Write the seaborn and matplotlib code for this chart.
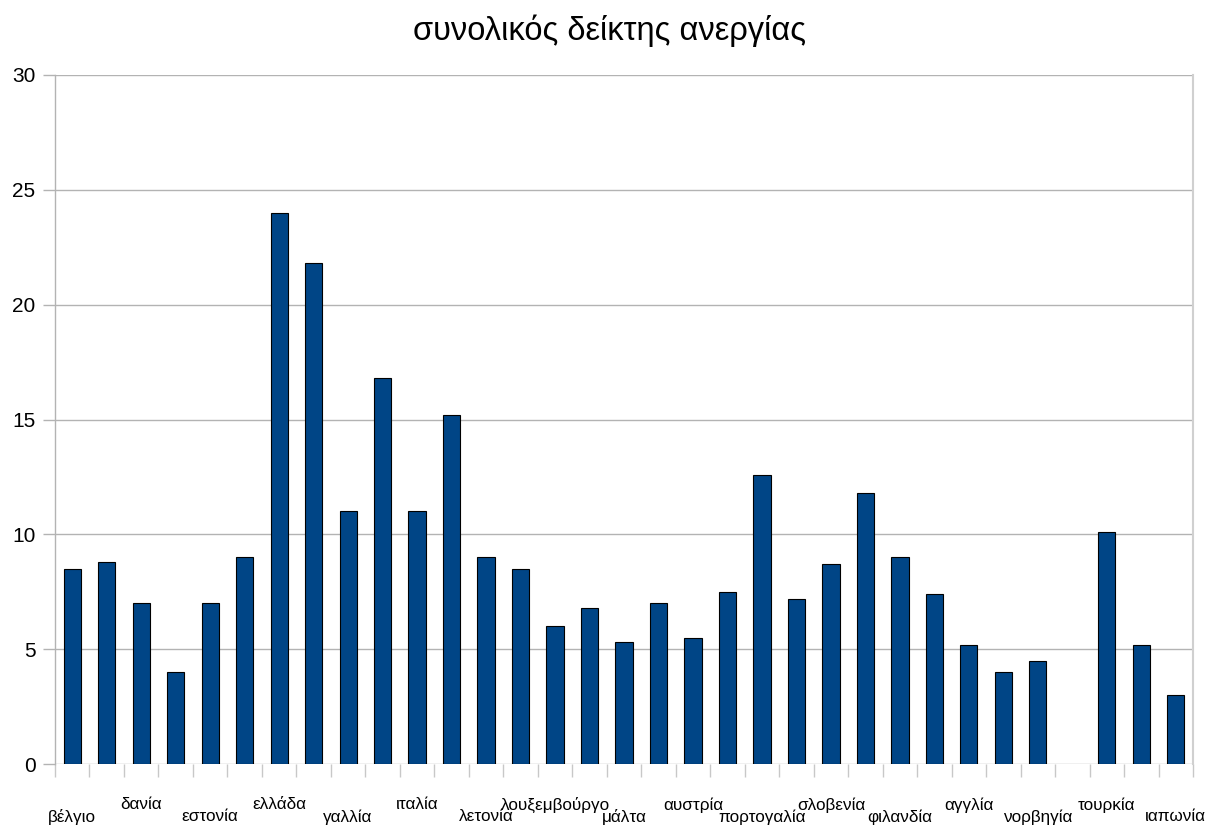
import numpy as np
import pandas as pd
import matplotlib
matplotlib.use("Agg")
import matplotlib.pyplot as plt
from matplotlib.transforms import offset_copy
import seaborn as sns

# Unemployment rate per country (%); only every other country name is printed
labels = ["βέλγιο", "", "δανία", "", "εστονία", "", "ελλάδα", "", "γαλλία", "",
          "ιταλία", "", "λετονία", "", "λουξεμβούργο", "", "μάλτα", "", "αυστρία", "",
          "πορτογαλία", "", "σλοβενία", "", "φιλανδία", "", "αγγλία", "", "νορβηγία", "",
          "τουρκία", "", "ιαπωνία"]
rates = [8.5, 8.8, 7.0, 4.0, 7.0, 9.0, 24.0, 21.8, 11.0, 16.8,
         11.0, 15.2, 9.0, 8.5, 6.0, 6.8, 5.3, 7.0, 5.5, 7.5,
         12.6, 7.2, 8.7, 11.8, 9.0, 7.4, 5.2, 4.0, 4.5, np.nan,
         10.1, 5.2, 3.0]
y_ticks = [0, 5, 10, 15, 20, 25, 30]
title = "συνολικός δείκτης ανεργίας"

sns.set_theme(style="white")
plt.rcParams["font.family"] = ["Liberation Sans", "DejaVu Sans"]

W, H = 1208, 825
fig = plt.figure(figsize=(W / 100, H / 100), dpi=100)
ax = fig.add_axes([55 / W, 61 / H, (1193 - 55) / W, (764 - 75) / H])

positions = list(range(len(rates)))
df = pd.DataFrame({"pos": positions, "rate": rates})
sns.barplot(data=df, x="pos", y="rate", order=positions, color="#004586",
            saturation=1, width=0.5, edgecolor="black", linewidth=0.8, ax=ax)

grid_c = "#b3b3b3"
ax.set_xlim(-0.5, len(rates) - 0.5)
ax.set_ylim(0, 30)
ax.set_yticks(y_ticks)
ax.set_yticklabels([str(t) for t in y_ticks], fontsize=15, color="black")
ax.yaxis.grid(True, color=grid_c, linewidth=1)
ax.set_axisbelow(True)
ax.tick_params(axis="y", length=8.6, width=1, color=grid_c, pad=5.5, left=True)
ax.set_xlabel("")
ax.set_ylabel("")

# category boundary ticks below the axis
ax.set_xticks([])
ax.set_xticks(np.arange(-0.5, len(rates), 1.0), minor=True)
ax.tick_params(axis="x", which="minor", length=9, width=1, color="#c8c8c8", bottom=True)

for side in ("top", "bottom"):
    ax.spines[side].set_visible(False)
ax.spines["left"].set_color(grid_c)
ax.spines["left"].set_linewidth(1)
ax.spines["right"].set_color("#d0d0d0")
ax.spines["right"].set_linewidth(1.5)

# staggered country names in two rows
base = ax.get_xaxis_transform()
k = 0
for i, name in enumerate(labels):
    if not name:
        continue
    dy = -29.5 if k % 2 else -38.0
    tr = offset_copy(base, fig=fig, x=0, y=dy, units="points")
    ax.text(i, 0, name, transform=tr, ha="center", va="center",
            fontsize=12.3, color="black")
    k += 1

fig.text(609.5 / W, 1 - 31 / H, title, ha="center", va="center", fontsize=23.5, color="black")

fig.savefig("out.png", dpi=100)
